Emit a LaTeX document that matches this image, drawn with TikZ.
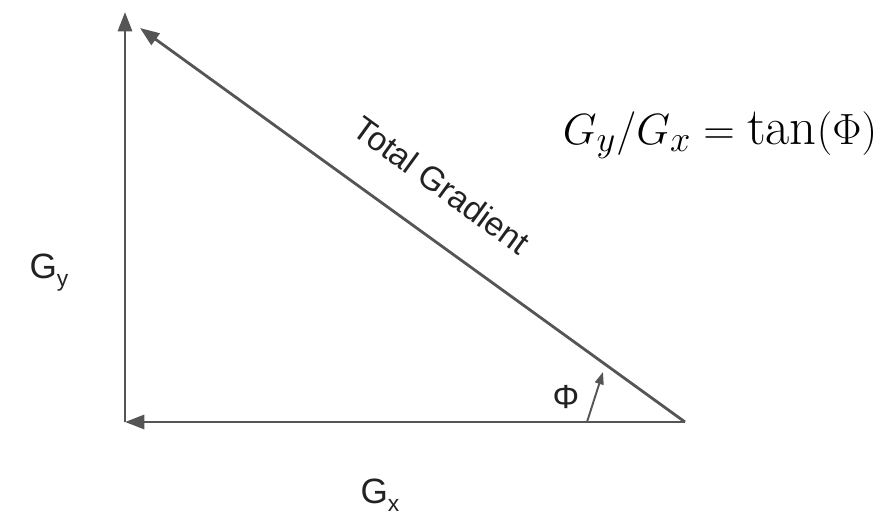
\documentclass[tikz,border=0pt]{standalone}
\usepackage{fontspec}
\setsansfont{Liberation Sans}
\usepackage{tikz}
\usetikzlibrary{arrows.meta,calc}
\definecolor{ln}{HTML}{555555}
\definecolor{ink}{HTML}{222222}
\tikzset{
  vec/.style={ln,line width=1.6pt,-{Triangle[length=11pt,width=8pt]}},
  ang/.style={ln,line width=1.1pt,-{Triangle[length=7pt,width=5pt]}},
  lbl/.style={font=\sffamily\fontsize{20}{22}\selectfont,text=ink,inner sep=1pt},
  note/.style={font=\sffamily\fontsize{19}{21}\selectfont,text=ink,inner sep=0pt},
}
\begin{document}
\begin{tikzpicture}
\useasboundingbox (0,0) rectangle (17.8,10.5);
\coordinate (o) at (2.5,2.06);
\coordinate (top) at (2.5,10.26);
\coordinate (r) at (13.7,2.06);
\coordinate (hyp) at (2.8,9.94);
\coordinate (a0) at (11.74,2.06);
\coordinate (a1) at (12.06,3.06);
\draw[vec] (o) -- (top);
\draw[vec] (r) -- (o);
\draw[vec] (r) -- (hyp);
\draw[ang] (a0) -- (a1);
\node[lbl] (gy) at (0.98,5.05) {G\raisebox{-0.45ex}{\fontsize{13}{14}\selectfont y}};
\node[lbl] (gx) at (7.6,0.6) {G\raisebox{-0.45ex}{\fontsize{13}{14}\selectfont x}};
\node[lbl,font=\sffamily\fontsize{19}{21}\selectfont] (phi) at (11.32,2.56) {Φ};
\node[note,rotate=-36] (tg) at (8.84,6.8) {Total Gradient};
\node[font=\fontsize{30}{33}\selectfont,text=black] (eq) at (14.4,7.8) {$G_y/G_x=\tan(\Phi)$};
\end{tikzpicture}
\end{document}
